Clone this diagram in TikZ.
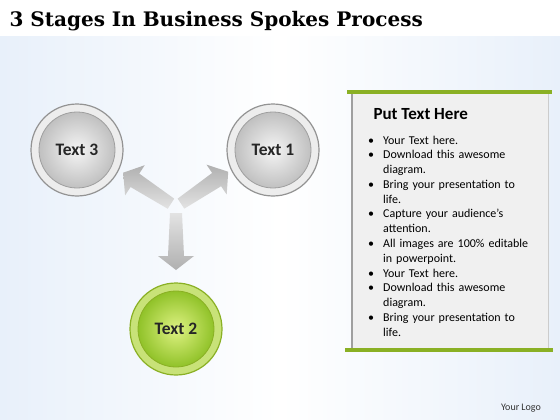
\documentclass[tikz,border=0pt]{standalone}
\usepackage{fontspec}
\setmainfont{Carlito}
\newfontfamily\slabfont{DejaVu Serif}
\usepackage{enumitem}
\definecolor{bgblue}{RGB}{232,240,250}
\definecolor{leafgreen}{RGB}{138,176,36}
\definecolor{ringgreen}{RGB}{200,226,120}
\definecolor{ballhi}{RGB}{222,242,130}
\definecolor{balllo}{RGB}{128,184,22}
\definecolor{panelgray}{RGB}{240,240,240}

\tikzset{
  btnbase/.style={circle, minimum size=92pt, inner sep=0pt, line width=1.2pt,
    font=\fontsize{17.5}{20}\selectfont\bfseries, text=black!85},
  graybtn/.style={btnbase, draw=gray!85, fill=gray!14,
    path picture={\shade[inner color=gray!8, outer color=gray!58, draw=gray!75, line width=0.8pt]
      (path picture bounding box.center) circle (38pt);}},
  greenbtn/.style={btnbase, draw=leafgreen, fill=ringgreen,
    path picture={\shade[inner color=ballhi, outer color=balllo, draw=leafgreen, line width=0.8pt]
      (path picture bounding box.center) circle (38pt);}},
  greenbar/.style={leafgreen, line width=3.5pt},
}

\newcommand\spoke[2]{%
  \begin{scope}[shift={(hub)}, rotate=#1]
    \shade[#2] (6,-6) -- (49,-8) -- (49,-18) -- (63,0) -- (49,18) -- (49,8) -- (6,6) -- cycle;
  \end{scope}}

\begin{document}
\begin{tikzpicture}[x=1pt, y=-1pt]
  \useasboundingbox (0,0) rectangle (560,420);
  % background
  \fill[white] (0,0) rectangle (560,37);
  \shade[left color=bgblue, right color=bgblue, middle color=white] (0,37) rectangle (560,420);

  \node[anchor=base west, font=\slabfont\bfseries\fontsize{20}{24}\selectfont] (title) at (6,27)
    {3 Stages In Business Spokes Process};

  % spokes
  \coordinate (hub) at (176,207);
  \spoke{-90}{top color=gray!22, bottom color=gray!62}
  \spoke{147}{top color=gray!62, bottom color=gray!22}
  \spoke{34}{top color=gray!62, bottom color=gray!22}

  \node[graybtn] (t3) at (77,150) {Text 3};
  \node[graybtn] (t1) at (273,150) {Text 1};
  \node[greenbtn] (t2) at (176,329) {Text 2};

  % text panel
  \fill[panelgray] (352,93) rectangle (548,349);
  \draw[gray!75, line width=1.5pt] (352,93) -- (352,349);
  \draw[gray!40, line width=1pt] (548,93) -- (548,349);
  \draw[greenbar] (347,92) -- (552,92);
  \draw[greenbar] (345,350) -- (553,350);

  \node[anchor=base west, font=\fontsize{17}{20}\selectfont\bfseries] (head) at (370,119) {Put Text Here};
  \node[anchor=north west, text width=180pt, inner sep=0pt, font=\fontsize{12}{14.8}\selectfont] (list) at (368,129) {%
    \begin{itemize}[label=\textbullet, leftmargin=15pt, labelindent=0pt, labelsep=0pt, labelwidth=15pt,
      align=left, itemsep=0pt, topsep=0pt, parsep=0pt, partopsep=0pt]
      \item Your Text here.
      \item Download this awesome\newline diagram.
      \item Bring your presentation to\newline life.
      \item Capture your audience’s\newline attention.
      \item All images are 100\% editable\newline in powerpoint.
      \item Your Text here.
      \item Download this awesome\newline diagram.
      \item Bring your presentation to\newline life.
    \end{itemize}};

  \node[font=\fontsize{10}{12}\selectfont, text=black!80] (logo) at (521,408) {Your Logo};
\end{tikzpicture}
\end{document}
